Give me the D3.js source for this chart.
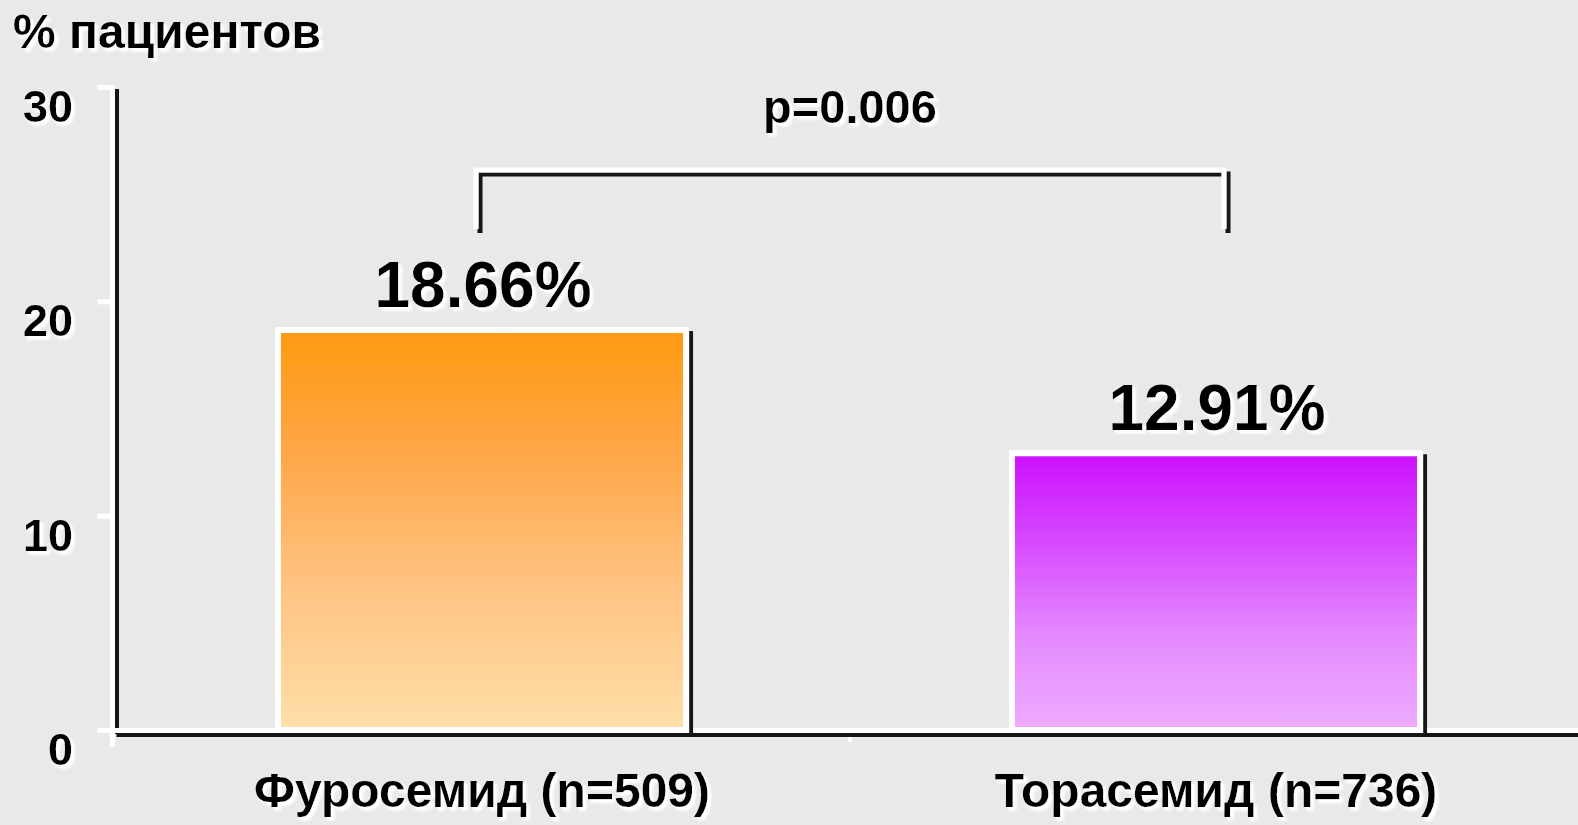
<!DOCTYPE html>
<html>
<head>
<meta charset="utf-8">
<script src="https://cdn.jsdelivr.net/npm/d3@7"></script>
<style>
  html, body { margin: 0; padding: 0; background: #e9e9e9; }
  svg { display: block; font-family: "Liberation Sans", Arial, sans-serif; font-weight: bold; }
</style>
</head>
<body>
<svg id="chart" width="1578" height="825"></svg>
<script>
// Data
const categories = ["Фуросемид (n=509)", "Торасемид (n=736)"];
const values = [18.66, 12.91];
const valueLabels = ["18.66%", "12.91%"];
const yTicks = [0, 10, 20, 30];
const yTitle = "% пациентов";
const pLabel = "p=0.006";

// Layout
const W = 1578, H = 825;
const svg = d3.select("#chart");
const y = d3.scaleLinear().domain([0, 30]).range([730, 87]);
const x = d3.scaleBand().domain(categories).range([115, 1583]).padding(0);
const barW = x.bandwidth() * 0.556;
const cx = d => x(d) + x.bandwidth() / 2;

const defs = svg.append("defs");

// white glow under text, shifted down-right
const tf = defs.append("filter").attr("id", "txtGlow")
  .attr("x", "-10%").attr("y", "-30%").attr("width", "130%").attr("height", "170%");
tf.append("feGaussianBlur").attr("in", "SourceAlpha").attr("stdDeviation", 1.6).attr("result", "b");
tf.append("feOffset").attr("in", "b").attr("dx", 3).attr("dy", 3).attr("result", "o");
tf.append("feFlood").attr("flood-color", "#ffffff").attr("result", "f");
tf.append("feComposite").attr("in", "f").attr("in2", "o").attr("operator", "in").attr("result", "s");
const tm = tf.append("feMerge");
tm.append("feMergeNode").attr("in", "s");
tm.append("feMergeNode").attr("in", "s");
tm.append("feMergeNode").attr("in", "SourceGraphic");

// dark hard shadow under white strokes
const lf = defs.append("filter").attr("id", "lineShadow")
  .attr("filterUnits", "userSpaceOnUse")
  .attr("x", 0).attr("y", 0).attr("width", W).attr("height", H);
lf.append("feOffset").attr("in", "SourceAlpha").attr("dx", 4).attr("dy", 4).attr("result", "o");
lf.append("feGaussianBlur").attr("in", "o").attr("stdDeviation", 0.4).attr("result", "ob");
lf.append("feFlood").attr("flood-color", "#141414").attr("result", "f");
lf.append("feComposite").attr("in", "f").attr("in2", "ob").attr("operator", "in").attr("result", "s");
const lm = lf.append("feMerge");
lm.append("feMergeNode").attr("in", "s");
lm.append("feMergeNode").attr("in", "SourceGraphic");

// bar gradients
const gradStops = [
  [["0%", "#ff9a10"], ["30%", "#ffa647"], ["65%", "#ffc483"], ["100%", "#ffdfa9"]],
  [["0%", "#cc11ff"], ["30%", "#d646ff"], ["65%", "#e488ff"], ["100%", "#eeadff"]]
];
gradStops.forEach((stops, i) => {
  const g = defs.append("linearGradient").attr("id", "grad" + i)
    .attr("x1", 0).attr("y1", 0).attr("x2", 0).attr("y2", 1);
  stops.forEach(s => g.append("stop").attr("offset", s[0]).attr("stop-color", s[1]));
});

// Axis lines (white with dark offset shadow)
const yAxisX = 112.5;
const axes = svg.append("g").attr("filter", "url(#lineShadow)");
axes.append("line")
  .attr("x1", yAxisX).attr("x2", yAxisX)
  .attr("y1", y(30) - 2).attr("y2", y(0))
  .attr("stroke", "#fff").attr("stroke-width", 5);
axes.append("line")
  .attr("x1", yAxisX).attr("x2", W + 10)
  .attr("y1", y(0) + 0.5).attr("y2", y(0) + 0.5)
  .attr("stroke", "#fff").attr("stroke-width", 5);

// Tick marks (plain white)
const yAxis = d3.axisLeft(y).tickValues(yTicks).tickSize(15).tickSizeOuter(0).tickFormat(d3.format("d"));
const ya = svg.append("g").attr("transform", `translate(${yAxisX},0)`).call(yAxis);
ya.select(".domain").remove();
ya.selectAll(".tick line").attr("stroke", "#fff").attr("stroke-width", 5).attr("x1", 2).attr("x2", -15);
ya.selectAll(".tick text").remove();

// category boundary ticks below the axis
svg.append("line")
  .attr("x1", yAxisX).attr("x2", yAxisX)
  .attr("y1", y(0)).attr("y2", y(0) + 17)
  .attr("stroke", "#fff").attr("stroke-width", 5);
svg.append("line")
  .attr("x1", x(categories[1]) + 1).attr("x2", x(categories[1]) + 1)
  .attr("y1", y(0) + 7).attr("y2", y(0) + 12)
  .attr("stroke", "#fff").attr("stroke-width", 4);

// tick labels
svg.append("g").attr("filter", "url(#txtGlow)")
  .selectAll("text").data(yTicks).join("text")
  .attr("x", 73).attr("y", d => y(d) + 35)
  .attr("text-anchor", "end")
  .attr("font-size", 45)
  .attr("fill", "#000")
  .text(d => d);

// y title
svg.append("text").attr("filter", "url(#txtGlow)")
  .attr("x", 13).attr("y", 48)
  .attr("font-size", 48).attr("fill", "#000")
  .text(yTitle);

// Bars
const bars = svg.append("g").attr("filter", "url(#lineShadow)");
bars.selectAll("rect").data(values).join("rect")
  .attr("x", (d, i) => cx(categories[i]) - barW / 2)
  .attr("width", barW)
  .attr("y", d => y(d))
  .attr("height", d => y(0) - y(d))
  .attr("fill", (d, i) => `url(#grad${i})`)
  .attr("stroke", "#fff").attr("stroke-width", 6);

// value labels
svg.append("g").attr("filter", "url(#txtGlow)")
  .selectAll("text").data(values).join("text")
  .attr("x", (d, i) => cx(categories[i]) + 1)
  .attr("y", d => y(d) - 23)
  .attr("text-anchor", "middle")
  .attr("font-size", 64).attr("fill", "#000")
  .text((d, i) => valueLabels[i]);

// category labels
svg.append("g").attr("filter", "url(#txtGlow)")
  .selectAll("text").data(categories).join("text")
  .attr("x", d => cx(d))
  .attr("y", 807)
  .attr("text-anchor", "middle")
  .attr("font-size", 48).attr("fill", "#000")
  .text(d => d);

// significance bracket
const bx0 = cx(categories[0]) - 6, bx1 = cx(categories[1]) + 8;
const bTop = 170, bBot = 229;
svg.append("path").attr("filter", "url(#lineShadow)")
  .attr("d", `M${bx0},${bBot}V${bTop}H${bx1}V${bBot}`)
  .attr("fill", "none").attr("stroke", "#fff").attr("stroke-width", 5)
  .attr("stroke-linejoin", "miter");

svg.append("text").attr("filter", "url(#txtGlow)")
  .attr("x", (bx0 + bx1) / 2).attr("y", 123)
  .attr("text-anchor", "middle")
  .attr("font-size", 47).attr("fill", "#000")
  .text(pLabel);
</script>
</body>
</html>
